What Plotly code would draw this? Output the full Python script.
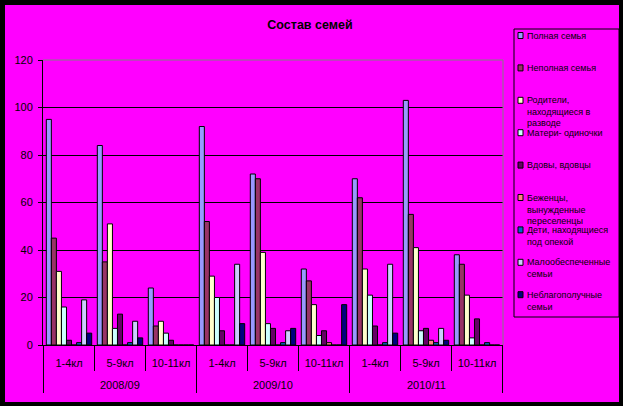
import plotly.graph_objects as go

# ---------------- data ----------------
years = ["2008/09", "2008/09", "2008/09",
         "2009/10", "2009/10", "2009/10",
         "2010/11", "2010/11", "2010/11"]
classes = ["1-4кл", "5-9кл", "10-11кл",
           "1-4кл", "5-9кл", "10-11кл",
           "1-4кл", "5-9кл", "10-11кл"]
year_labels = ["2008/09", "2009/10", "2010/11"]

polnaya = [95, 84, 24, 92, 72, 32, 70, 103, 38]
nepolnaya = [45, 35, 8, 52, 70, 27, 62, 55, 34]
razvod = [31, 51, 10, 29, 39, 17, 32, 41, 21]
materi = [16, 7, 5, 20, 9, 4, 21, 6, 3]
vdovy = [2, 13, 2, 6, 7, 6, 8, 7, 11]
bezhentsy = [0, 0, 0, 0, 0, 1, 0, 2, 0]
opeka = [1, 1, 0, 0, 1, 0, 1, 1, 1]
maloobesp = [19, 10, 0, 34, 6, 0, 34, 7, 0]
neblagopol = [5, 3, 0, 9, 7, 17, 5, 2, 0]

series_names = ["Полная семья", "Неполная семья",
                "Родители, находящиеся в разводе", "Матери- одиночки",
                "Вдовы, вдовцы", "Беженцы, вынужденные переселенцы",
                "Дети, находящиеся под опекой", "Малообеспеченные семьи",
                "Неблагополучные семьи"]
legend_lines = [["Полная семья"], ["Неполная семья"],
                ["Родители,", "находящиеся в", "разводе"], ["Матери- одиночки"],
                ["Вдовы, вдовцы"], ["Беженцы,", "вынужденные", "переселенцы"],
                ["Дети, находящиеся", "под опекой"], ["Малообеспеченные", "семьи"],
                ["Неблагополучные", "семьи"]]
series_values = [polnaya, nepolnaya, razvod, materi, vdovy,
                 bezhentsy, opeka, maloobesp, neblagopol]
y_ticks = [0, 20, 40, 60, 80, 100, 120]
title_text = "Состав семей"

# ---------------- style ----------------
colors = ["#9999FF", "#993366", "#FFFFCC", "#CCFFFF", "#660066",
          "#FF8080", "#0066CC", "#CCCCFF", "#000080"]
BG = "#FF00FF"
FONT = "Liberation Sans, Arial, sans-serif"

W, H = 623, 406
L, R, T, B = 43, 503, 60, 345


def px_x(px):
    return (px - L) / (R - L)


def px_y(py):
    return (B - py) / (B - T)


# unique category ids (year + class), shown with class labels only
cat_ids = [y + " " + c for y, c in zip(years, classes)]

fig = go.Figure()
for name, vals, col in zip(series_names, series_values, colors):
    fig.add_trace(go.Bar(
        x=cat_ids, y=vals, name=name,
        marker=dict(color=col, line=dict(color="black", width=1)),
        showlegend=False,
    ))

shapes = []
# black outer frame: paper black, magenta inner rect
shapes.append(dict(type="rect", xref="paper", yref="paper", layer="below",
                   x0=px_x(5), x1=px_x(619), y0=px_y(402), y1=px_y(5),
                   fillcolor=BG, line=dict(width=0)))
# gray plot-area border (top/right)
shapes.append(dict(type="line", xref="paper", yref="paper", x0=0, x1=1, y0=1, y1=1,
                   line=dict(color="#808080", width=1)))
shapes.append(dict(type="line", xref="paper", yref="paper", x0=1, x1=1, y0=0, y1=1,
                   line=dict(color="#808080", width=1)))
# legend box
shapes.append(dict(type="rect", xref="paper", yref="paper",
                   x0=px_x(514), x1=px_x(619), y0=px_y(317), y1=px_y(29),
                   line=dict(color="black", width=1), fillcolor="rgba(0,0,0,0)"))

annotations = []
# year group labels and long dividers, placed on the category axis
n_per_year = 3
for k, yl in enumerate(year_labels):
    mid_cat = cat_ids[k * n_per_year + 1]
    annotations.append(dict(xref="x", yref="paper", x=mid_cat, y=px_y(385),
                            xanchor="center", yanchor="middle", showarrow=False,
                            text=yl, font=dict(size=11, color="black", family=FONT)))
for k in range(len(year_labels) + 1):
    xb = k * n_per_year - 0.5
    shapes.append(dict(type="line", xref="x", yref="paper", x0=xb, x1=xb,
                       y0=0, y1=px_y(393), line=dict(color="black", width=1)))

first_y = 35.5
step = 32.4
for i, (lines, col) in enumerate(zip(legend_lines, colors)):
    cy = first_y + step * i
    shapes.append(dict(type="rect", xref="paper", yref="paper",
                       x0=px_x(518), x1=px_x(523), y0=px_y(cy + 3), y1=px_y(cy - 3),
                       fillcolor=col, line=dict(color="black", width=1)))
    annotations.append(dict(xref="paper", yref="paper", x=px_x(525), y=px_y(cy - 7),
                            xanchor="left", yanchor="top", align="left",
                            showarrow=False, text="<br>".join(lines),
                            font=dict(size=9, color="black", family=FONT)))

fig.update_layout(
    width=W, height=H, autosize=False,
    margin=dict(l=L, r=W - R, t=T, b=H - B, pad=0),
    paper_bgcolor="black", plot_bgcolor=BG,
    font=dict(family=FONT, color="black", size=11),
    title=dict(text="<b>" + title_text + "</b>", x=310 / W, xanchor="center",
               y=1 - 25 / H, yanchor="middle",
               font=dict(size=12.5, color="black", family=FONT)),
    barmode="group", bargap=0.11, bargroupgap=0,
    shapes=shapes, annotations=annotations,
)
fig.update_yaxes(range=[0, 120], tickvals=y_ticks, showgrid=True, gridcolor="black",
                 gridwidth=1, zeroline=False, showline=True, linecolor="black",
                 linewidth=1, ticks="outside", ticklen=4, tickcolor="black",
                 tickfont=dict(size=11, color="black"), ticklabelstandoff=3)
fig.update_xaxes(type="category", categoryorder="array", categoryarray=cat_ids,
                 tickmode="array", tickvals=cat_ids, ticktext=classes,
                 showline=True, linecolor="black", linewidth=1,
                 ticks="outside", tickson="boundaries", ticklen=25, tickcolor="black",
                 tickfont=dict(size=11, color="black"), showgrid=False,
                 ticklabelstandoff=8)

fig.write_html("out.html", post_script="document.body.style.margin='0';",
               config={"displayModeBar": False})
